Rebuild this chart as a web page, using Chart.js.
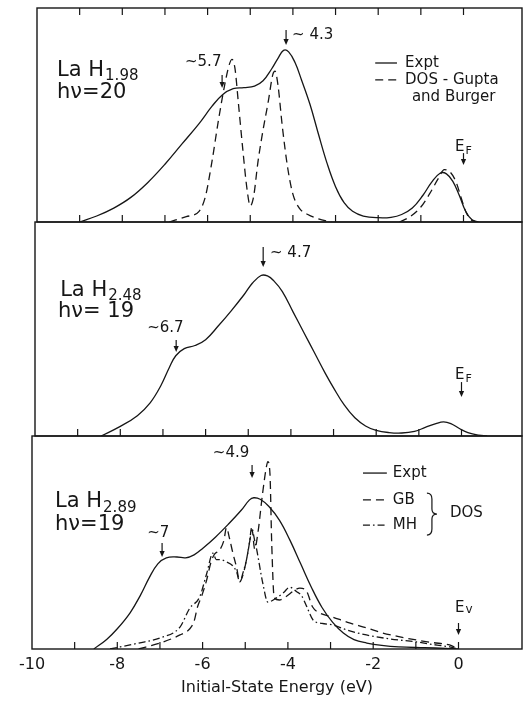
<!DOCTYPE html>
<html>
<head>
<meta charset="utf-8">
<title>LaH photoemission spectra</title>
<script src="https://cdn.jsdelivr.net/npm/chart.js@4.4.0/dist/chart.umd.min.js"></script>
<style>
  body { margin: 0; background: #fff; }
  #wrap { position: relative; width: 523px; height: 702px; overflow: hidden; }
  #wrap canvas { position: absolute; left: 0; }
</style>
</head>
<body>
<div id="wrap">
  <canvas id="c1" width="523" height="226" style="top:0px"></canvas>
  <canvas id="c2" width="523" height="222" style="top:218px"></canvas>
  <canvas id="c3" width="523" height="270" style="top:432px"></canvas>
</div>
<script>
// ---------------------------------------------------------------
// Energy axis (eV) shared by the three spectra
// ---------------------------------------------------------------
const xMin = -10;
const tickMarks = [-9, -8, -7, -6, -5, -4, -3, -2, -1, 0];
const tickLabelValues = [-10, -8, -6, -4, -2, 0];
const tickLabels = ['-10', '-8', '-6', '-4', '-2', '0'];
const axisTitle = 'Initial-State Energy (eV)';

// ---------------------------------------------------------------
// LaH1.98, hv = 20 : measured EDC and Gupta-Burger DOS (arb. units, 0-100)
// ---------------------------------------------------------------
const exptE1 = [-9.0, -8.6, -8.2, -7.8, -7.4, -7.0, -6.6, -6.2, -5.9, -5.65, -5.4, -5.15, -4.9,
  -4.7, -4.5, -4.35, -4.22, -4.1, -3.95, -3.8, -3.6, -3.4, -3.2, -3.0, -2.8, -2.6, -2.35, -2.0,
  -1.7, -1.45, -1.2, -0.95, -0.75, -0.55, -0.4, -0.25, -0.1, 0.05, 0.2, 0.35];
const exptI1 = [0, 2.8, 6.5, 11.5, 18.5, 27, 36.5, 46, 54, 59.5, 62.3, 62.8, 63.5,
  66, 71.5, 76.5, 80.2, 79.5, 74.5, 66.5, 55, 41, 27.5, 16.5, 9, 5, 2.8, 2.0,
  2.2, 3.5, 6.5, 12.5, 18.5, 22.8, 22.5, 19, 12.5, 5, 1, 0];

const gbE1 = [-6.9, -6.5, -6.2, -6.05, -5.9, -5.75, -5.6, -5.5, -5.43, -5.36, -5.28, -5.18, -5.08,
  -5.0, -4.92, -4.82, -4.7, -4.58, -4.47, -4.42, -4.35, -4.25, -4.12, -4.0, -3.85, -3.65, -3.4, -3.1,
  -2.3,
  -1.5, -1.25, -1.0, -0.8, -0.6, -0.45, -0.32, -0.18, -0.05, 0.05, 0.15, 0.3];
const gbI1 = [0, 2.5, 5, 12, 28, 47, 64, 73, 76, 72, 56, 35, 16,
  7.5, 12, 28, 43, 56, 69, 70.5, 64, 45, 25, 13, 6.5, 3.5, 1.5, 0,
  null,
  0, 2.5, 7, 13, 20, 24.5, 23.5, 19, 11, 5, 1.5, 0];

// ---------------------------------------------------------------
// LaH2.48, hv = 19 : measured EDC
// ---------------------------------------------------------------
const exptE2 = [-8.45, -8.0, -7.6, -7.3, -7.05, -6.85, -6.7, -6.5, -6.25, -6.0, -5.7, -5.4, -5.1,
  -4.9, -4.7, -4.55, -4.4, -4.2, -3.95, -3.7, -3.45, -3.2, -3.0, -2.75, -2.5, -2.25, -2.0, -1.7,
  -1.4, -1.1, -0.85, -0.6, -0.42, -0.25, -0.05, 0.15, 0.4, 0.6];
const exptI2 = [0, 4.5, 9.5, 15.5, 23.5, 32, 37.5, 40.8, 42.3, 45, 51.5, 58.5, 66,
  71.5, 75, 74.8, 72.5, 67.5, 58, 48.5, 39, 29.5, 22.5, 14.5, 8.5, 4.7, 2.6, 1.6,
  1.4, 2.2, 4, 5.8, 6.6, 5.8, 3.5, 1.6, 0.4, 0];

// ---------------------------------------------------------------
// LaH2.89, hv = 19 : measured EDC, GB and MH densities of states
// ---------------------------------------------------------------
const exptE3 = [-8.55, -8.25, -8.0, -7.7, -7.45, -7.25, -7.05, -6.85, -6.6, -6.4, -6.2, -6.0, -5.7,
  -5.4, -5.1, -4.9, -4.8, -4.65, -4.45, -4.2, -3.95, -3.7, -3.45, -3.2, -2.95, -2.7, -2.45, -2.15,
  -1.8, -1.4, -0.8, -0.3, 0.0];
const exptI3 = [0, 4.5, 9.5, 17, 25.5, 33.5, 40, 42.8, 43.2, 42.8, 44.2, 47.2, 52.5,
  58.5, 65, 70, 71, 70.3, 67, 60.5, 51, 40, 29, 19.5, 12.5, 7.5, 4.4, 2.8,
  1.7, 1.0, 0.6, 0.3, 0];

const gbE3 = [-7.5, -7.0, -6.53, -6.3, -6.2, -6.12, -6.03, -5.91, -5.8, -5.72, -5.6, -5.5, -5.44,
  -5.37, -5.29, -5.2, -5.13, -5.05, -4.97, -4.9, -4.84, -4.78, -4.7, -4.6, -4.5, -4.47, -4.42, -4.38,
  -4.32, -4.2, -4.05, -3.85, -3.72, -3.56, -3.42, -3.26, -2.95, -2.6, -2.16, -1.78, -1.4, -0.98,
  -0.6, -0.21, -0.05];
const gbI3 = [0, 2.8, 6.6, 9.5, 13, 19.7, 24.4, 32, 41, 44.5, 46.5, 51, 57,
  52, 45, 38, 31.5, 35, 42, 50, 56, 47, 55, 72, 86, 88, 82, 50,
  24, 23, 24.5, 27.5, 28.6, 27, 19.7, 17, 15, 12.5, 9.9, 7.5, 5.8, 4.2,
  3, 1.9, 0.5];

const mhE3 = [-8.17, -7.5, -7.0, -6.53, -6.3, -6.07, -5.9, -5.76, -5.68, -5.6, -5.45, -5.29, -5.2,
  -5.13, -5.05, -4.97, -4.9, -4.85, -4.78, -4.73, -4.59, -4.47, -4.27, -4.1, -3.96, -3.8, -3.68,
  -3.56, -3.41, -3.2, -2.95, -2.6, -2.16, -1.6, -0.98, -0.5, -0.21, 0.0];
const mhI3 = [0, 2.8, 5.2, 10.3, 19.2, 24.4, 35.7, 45, 42, 42, 41, 39, 36,
  31.5, 36, 42, 50, 57, 51, 46.5, 31, 22, 24, 26.5, 29, 27, 25,
  20, 13.6, 12, 11.3, 8.8, 6.6, 4.7, 3.3, 1.8, 1, 0];

// ---------------------------------------------------------------
// Styling
// ---------------------------------------------------------------
const ink = '#161616';
const FONT = '"DejaVu Sans", sans-serif';
const PX_PER_EV = 42.65;
const SOLID = [];
const DASHED = [8, 5];
const DASH_DOT = [7, 3, 1.6, 3];

function points(xs, ys) {
  return xs.map((x, i) => ({ x, y: ys[i] }));
}

// measured spectra are smooth; the computed DOS curves keep their sharp peaks
function curve(xs, ys, dash, smooth) {
  return {
    data: points(xs, ys),
    borderColor: ink,
    borderWidth: 1.3,
    borderDash: dash,
    pointRadius: 0,
    fill: false,
    tension: smooth ? 0.4 : 0,
    cubicInterpolationMode: smooth ? 'default' : 'monotone',
    spanGaps: false,
  };
}

function line(ctx, x1, y1, x2, y2) {
  ctx.beginPath();
  ctx.moveTo(x1, y1);
  ctx.lineTo(x2, y2);
  ctx.stroke();
}

function downArrow(ctx, x, y1, y2) {
  ctx.lineWidth = 1.2;
  line(ctx, x, y1, x, y2 - 4);
  ctx.beginPath();
  ctx.moveTo(x - 2.6, y2 - 6);
  ctx.lineTo(x + 2.6, y2 - 6);
  ctx.lineTo(x, y2);
  ctx.closePath();
  ctx.fill();
}

// text with an optional subscript run after it
function label(ctx, t, x, y) {
  ctx.font = `${t.size}px ${FONT}`;
  ctx.fillText(t.text, x, y);
  if (t.sub) {
    const w = ctx.measureText(t.text).width;
    ctx.font = `${t.subSize}px ${FONT}`;
    ctx.fillText(t.sub, x + w + (t.subGap || 1), y + t.subDrop);
  }
}

// frame, inner tick marks, labels, arrows and the hand-drawn key
const panelDeco = {
  id: 'panelDeco',
  afterDatasetsDraw(chart, args, opts) {
    const { ctx, chartArea: a, scales } = chart;
    const px = v => scales.x.getPixelForValue(v);
    const py = v => scales.y.getPixelForValue(v);
    ctx.save();
    ctx.strokeStyle = ink;
    ctx.fillStyle = ink;

    ctx.lineWidth = 1.4;
    ctx.strokeRect(a.left, a.top, a.right - a.left, a.bottom - a.top);

    ctx.lineWidth = 1.2;
    tickMarks.forEach(v => {
      line(ctx, px(v), a.bottom, px(v), a.bottom - 7);
      if (opts.topTicks) line(ctx, px(v), a.top, px(v), a.top + 7);
    });

    ctx.textBaseline = 'middle';
    ctx.textAlign = 'left';
    (opts.texts || []).forEach(t => label(ctx, t, px(t.x), py(t.y)));
    (opts.arrows || []).forEach(r => downArrow(ctx, px(r.x), py(r.y1), py(r.y2)));

    (opts.keys || []).forEach(k => {
      ctx.lineWidth = 1.3;
      ctx.setLineDash(k.dash);
      line(ctx, px(k.x1), py(k.y), px(k.x2), py(k.y));
      ctx.setLineDash([]);
      ctx.font = `15px ${FONT}`;
      ctx.fillText(k.text, px(k.tx), py(k.y));
    });

    if (opts.brace) {
      const b = opts.brace;
      const x = px(b.x), y1 = py(b.y1), y2 = py(b.y2), ym = (y1 + y2) / 2;
      ctx.lineWidth = 1.2;
      ctx.beginPath();
      ctx.moveTo(x - 3, y1);
      ctx.quadraticCurveTo(x + 2, y1, x + 2, y1 + 6);
      ctx.lineTo(x + 2, ym - 5);
      ctx.quadraticCurveTo(x + 2, ym, x + 7, ym);
      ctx.quadraticCurveTo(x + 2, ym, x + 2, ym + 5);
      ctx.lineTo(x + 2, y2 - 6);
      ctx.quadraticCurveTo(x + 2, y2, x - 3, y2);
      ctx.stroke();
    }
    ctx.restore();
  },
};

function makeChart(cfg) {
  const right = 1;
  const xMax = xMin + (523 - right - cfg.left) / PX_PER_EV;
  return new Chart(document.getElementById(cfg.id), {
    type: 'line',
    data: { datasets: cfg.datasets },
    options: {
      responsive: false,
      animation: false,
      events: [],
      layout: { padding: { left: cfg.left, right: right, top: cfg.padTop, bottom: cfg.padBottom || 0 } },
      scales: {
        x: cfg.axis ? {
          type: 'linear', min: xMin, max: xMax,
          afterBuildTicks: s => { s.ticks = tickLabelValues.map(value => ({ value })); },
          afterFit: s => { s.height = cfg.axisHeight; },
          ticks: {
            autoSkip: false, maxRotation: 0, padding: 6, color: ink,
            font: { family: FONT, size: 16 },
            callback: v => tickLabels[tickLabelValues.indexOf(v)],
          },
          grid: { display: false, drawTicks: false },
          border: { display: false },
          title: {
            display: true, text: axisTitle, color: ink,
            font: { family: FONT, size: 16 },
            padding: { top: 4, bottom: 4.4 },
          },
        } : { type: 'linear', min: xMin, max: xMax, display: false },
        y: { min: 0, max: 100, display: false },
      },
      plugins: {
        legend: { display: false },
        tooltip: { enabled: false },
        panelDeco: cfg.deco,
      },
    },
    plugins: [panelDeco],
  });
}

function nameLabel(x, y, sub) {
  return { text: 'La H', sub, x, y, size: 21, subSize: 15, subDrop: 6, subGap: 1 };
}
function photonLabel(x, y, text) {
  return { text, x, y, size: 21 };
}

// Three stacked panels; their frames meet at y = 222 and y = 436
const c1 = makeChart({
  id: 'c1', left: 37, padTop: 8, padBottom: 4,
  datasets: [curve(exptE1, exptI1, SOLID, true), curve(gbE1, gbI1, DASHED, false)],
  deco: {
    topTicks: true,
    texts: [
      nameLabel(-9.53, 71, '1.98'),
      photonLabel(-9.53, 60.3, 'hν=20'),
      { text: '~5.7', x: -6.53, y: 74.8, size: 15 },
      { text: '~ 4.3', x: -4.02, y: 87.4, size: 15 },
      { text: 'and Burger', x: -1.21, y: 58.4, size: 15 },
      { text: 'E', sub: 'F', x: -0.2, y: 35, size: 15, subSize: 11, subDrop: 4 },
    ],
    arrows: [
      { x: -5.66, y1: 68.7, y2: 62.6 },
      { x: -4.16, y1: 89.7, y2: 82.7 },
      { x: 0, y1: 32.2, y2: 26.6 },
    ],
    keys: [
      { dash: SOLID, x1: -2.07, x2: -1.56, y: 74.3, tx: -1.37, text: 'Expt' },
      { dash: DASHED, x1: -2.07, x2: -1.56, y: 66.4, tx: -1.37, text: 'DOS - Gupta' },
    ],
  },
});

const c2 = makeChart({
  id: 'c2', left: 35, padTop: 4, padBottom: 4,
  datasets: [curve(exptE2, exptI2, SOLID, true)],
  deco: {
    texts: [
      nameLabel(-9.41, 68.2, '2.48'),
      photonLabel(-9.46, 58, 'hν= 19'),
      { text: '~6.7', x: -7.37, y: 50.5, size: 15 },
      { text: '~ 4.7', x: -4.49, y: 85.5, size: 15 },
      { text: 'E', sub: 'F', x: -0.15, y: 28.5, size: 15, subSize: 11, subDrop: 4 },
    ],
    arrows: [
      { x: -6.69, y1: 44.9, y2: 39.3 },
      { x: -4.65, y1: 88.3, y2: 79 },
      { x: 0, y1: 25.2, y2: 18.2 },
    ],
  },
});

const c3 = makeChart({
  id: 'c3', left: 32, padTop: 4, axis: true, axisHeight: 53,
  datasets: [
    curve(exptE3, exptI3, SOLID, true),
    curve(gbE3, gbI3, DASHED, false),
    curve(mhE3, mhI3, DASH_DOT, false),
  ],
  deco: {
    texts: [
      nameLabel(-9.46, 69, '2.89'),
      photonLabel(-9.46, 58.2, 'hν=19'),
      { text: '~7', x: -7.3, y: 54.5, size: 15 },
      { text: '~4.9', x: -5.76, y: 92, size: 15 },
      { text: 'DOS', x: -0.2, y: 63.8, size: 15 },
      { text: 'E', sub: 'v', x: -0.08, y: 19.2, size: 15, subSize: 12, subDrop: 2 },
    ],
    arrows: [
      { x: -6.95, y1: 49.8, y2: 43.2 },
      { x: -4.84, y1: 86.4, y2: 80.3 },
      { x: 0, y1: 12.2, y2: 6.6 },
    ],
    keys: [
      { dash: SOLID, x1: -2.24, x2: -1.68, y: 82.6, tx: -1.54, text: 'Expt' },
      { dash: DASHED, x1: -2.24, x2: -1.68, y: 70, tx: -1.54, text: 'GB' },
      { dash: DASH_DOT, x1: -2.24, x2: -1.68, y: 58.2, tx: -1.54, text: 'MH' },
    ],
    brace: { x: -0.67, y1: 73.2, y2: 53.5 },
  },
});
</script>
</body>
</html>
